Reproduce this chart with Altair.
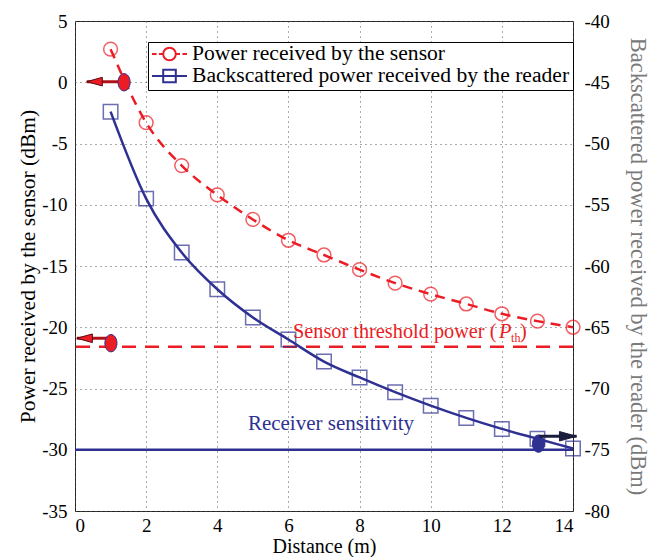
import altair as alt
import pandas as pd

# ---------------- data ----------------
distance = [1, 2, 3, 4, 5, 6, 7, 8, 9, 10, 11, 12, 13, 14]
sensor_dbm = [2.7, -3.3, -6.8, -9.2, -11.2, -12.9, -14.1, -15.3, -16.4, -17.3, -18.1, -18.9, -19.5, -20.0]
reader_dbm = [-47.4, -54.5, -58.9, -61.9, -64.2, -66.0, -67.8, -69.1, -70.3, -71.4, -72.4, -73.3, -74.1, -74.9]
threshold_dbm = [-21.6]          # left axis
sensitivity_dbm = [-75.0]        # right axis
series_names = ["Power received by the sensor", "Backscattered power received by the reader"]

x_ticks = [0, 2, 4, 6, 8, 10, 12, 14]
left_domain = [-35, 5]
right_domain = [-80, -40]

# annotation markers (axis-indicator ellipses and arrows)
red_ell_x = [1.38, 1.01]
red_ell_y = [0.0, -21.3]
red_arrow_from = [1.3, 0.95]
red_arrow_to = [0.33, 0.05]
red_arrow_y = [0.05, -20.9]
blue_ell_x = [13.03]
blue_ell_y = [-74.5]
blue_arrow_from = [13.05]
blue_arrow_to = [14.1]
blue_arrow_y = [-73.9]

RED = "#ec1c24"
BLUE = "#2e3192"
DARK = "#1c1c3c"
FONT = "Liberation Serif"

sensor_df = pd.DataFrame({"distance": distance, "dbm": sensor_dbm})
reader_df = pd.DataFrame({"distance": distance, "dbm": reader_dbm})
thr_df = pd.DataFrame({"dbm": threshold_dbm})
sens_df = pd.DataFrame({"dbm": sensitivity_dbm})
legend_df = pd.DataFrame({"series": series_names})
red_ell_df = pd.DataFrame({"distance": red_ell_x, "dbm": red_ell_y})
red_arr_df = pd.DataFrame({"distance": red_arrow_from, "d2": red_arrow_to, "dbm": red_arrow_y})
blue_ell_df = pd.DataFrame({"distance": blue_ell_x, "dbm": blue_ell_y})
blue_arr_df = pd.DataFrame({"distance": blue_arrow_from, "d2": blue_arrow_to, "dbm": blue_arrow_y})

common = dict(labelFont=FONT, titleFont=FONT, titleFontWeight="normal", labelColor="black",
              ticks=False, domain=False, gridColor="#555", gridDash=[1, 4], gridWidth=1, gridOpacity=1,
              labelExpr="datum.value + ''")
x_axis = alt.Axis(values=x_ticks, title="Distance (m)", grid=True, labelPadding=5,
                  titlePadding=1, titleFontSize=20, labelFontSize=19, titleColor="black", **common)
left_axis = alt.Axis(values=list(range(-35, 6, 5)), title="Power received by the sensor (dBm)",
                     grid=True, labelPadding=8, titlePadding=2, titleFontSize=21.5, labelFontSize=19,
                     titleColor="black", **common)
right_axis = alt.Axis(values=list(range(-80, -39, 5)), orient="right",
                      title="Backscattered power received by the reader (dBm)", grid=False,
                      labelPadding=11, titlePadding=16, titleFontSize=22.5, labelFontSize=19,
                      titleColor="#7a7a7a", **common)


def X(field="distance"):
    return alt.X(f"{field}:Q", scale=alt.Scale(domain=[0, 14], nice=False), axis=x_axis)


def YL():
    return alt.Y("dbm:Q", scale=alt.Scale(domain=left_domain, nice=False), axis=left_axis)


def YR():
    return alt.Y("dbm:Q", scale=alt.Scale(domain=right_domain, nice=False), axis=right_axis)


# ---------------- left-axis group ----------------
red_line = alt.Chart(sensor_df).mark_line(color=RED, strokeWidth=2.5, strokeDash=[10, 7],
                                          interpolate="monotone").encode(x=X(), y=YL())
red_pts = alt.Chart(sensor_df).mark_point(shape="circle", size=190, color=RED, filled=False,
                                          strokeWidth=1.5).encode(x=X(), y=YL())
thr_rule = alt.Chart(thr_df).mark_rule(color=RED, strokeWidth=2.5, strokeDash=[14, 9]).encode(y=YL())

red_arr_shaft = alt.Chart(red_arr_df).mark_rule(color="#b01018", strokeWidth=3).encode(
    x=X(), x2="d2:Q", y=YL())
head_left = "M0,0L1.8,-0.5L1.8,0.5Z"
head_right = "M0,0L-1.8,-0.5L-1.8,0.5Z"
ellipse = "M0,-1A0.7,1 0 1,1 0,1A0.7,1 0 1,1 0,-1Z"
red_arr_head = alt.Chart(red_arr_df).mark_point(shape=head_left, size=300, filled=True, fill=RED,
                                                stroke="#5a0a10", strokeWidth=1, opacity=1).encode(
    x=X("d2"), y=YL())
red_ell = alt.Chart(red_ell_df).mark_point(shape=ellipse, size=300, filled=True, fill=RED,
                                           stroke=BLUE, strokeWidth=1, opacity=1).encode(x=X(), y=YL())

txt_df = pd.DataFrame({"distance": [6.13], "dbm": [-20.9]})
t1 = alt.Chart(txt_df).mark_text(text="Sensor threshold power (", align="left", baseline="alphabetic",
                                 font=FONT, fontSize=20.3, color=RED).encode(x=X(), y=YL())
t2 = alt.Chart(txt_df).mark_text(text="P", align="left", baseline="alphabetic", dx=206,
                                 font=FONT, fontSize=20.3, fontStyle="italic", color=RED).encode(x=X(), y=YL())
t3 = alt.Chart(txt_df).mark_text(text="th", align="left", baseline="alphabetic", dx=218, dy=4,
                                 font=FONT, fontSize=12, color=RED).encode(x=X(), y=YL())
t4 = alt.Chart(txt_df).mark_text(text=")", align="left", baseline="alphabetic", dx=227,
                                 font=FONT, fontSize=20.3, color=RED).encode(x=X(), y=YL())
rs_df = pd.DataFrame({"distance": [4.86], "dbm": [-28.4]})
t5 = alt.Chart(rs_df).mark_text(text="Receiver sensitivity", align="left", baseline="alphabetic",
                                font=FONT, fontSize=21, color=BLUE).encode(x=X(), y=YL())

red_sym = ("M-1,0H-0.74M-0.6,0H-0.38M0.38,0H0.6M0.74,0H1"
           "M-0.36,0A0.36,0.36 0 1 0 0.36,0A0.36,0.36 0 1 0 -0.36,0")
blue_sym = "M-1,0H1M-0.36,-0.36H0.36V0.36H-0.36Z"
leg = alt.Legend(title=None, orient="none", legendX=73, legendY=21, labelFont=FONT, labelFontSize=21.6,
                 labelLimit=0, symbolSize=1225, symbolStrokeWidth=2, symbolOpacity=1, clipHeight=18,
                 rowPadding=0, padding=3, strokeColor="black", fillColor="white", labelOffset=4,
                 labelColor="black")
legend_layer = alt.Chart(legend_df).mark_point(filled=False, opacity=0).encode(
    color=alt.Color("series:N", scale=alt.Scale(domain=series_names, range=[RED, BLUE]), legend=leg),
    shape=alt.Shape("series:N", scale=alt.Scale(domain=series_names, range=[red_sym, blue_sym]), legend=leg),
)

left_group = alt.layer(thr_rule, red_line, red_pts, red_arr_shaft, red_arr_head, red_ell,
                       t1, t2, t3, t4, t5, legend_layer)

# ---------------- right-axis group ----------------
blue_line = alt.Chart(reader_df).mark_line(color=BLUE, strokeWidth=2.5,
                                           interpolate="monotone").encode(x=X(), y=YR())
blue_pts = alt.Chart(reader_df).mark_point(shape="square", size=210, color=BLUE, filled=False,
                                           strokeWidth=1.5).encode(x=X(), y=YR())
sens_rule = alt.Chart(sens_df).mark_rule(color=BLUE, strokeWidth=2.5).encode(y=YR())
blue_ell = alt.Chart(blue_ell_df).mark_point(shape=ellipse, size=300, filled=True, fill=BLUE,
                                             stroke=BLUE, strokeWidth=1, opacity=1).encode(x=X(), y=YR())
blue_arr_shaft = alt.Chart(blue_arr_df).mark_rule(color=DARK, strokeWidth=3).encode(
    x=X(), x2="d2:Q", y=YR())
blue_arr_head = alt.Chart(blue_arr_df).mark_point(shape=head_right, size=360, filled=True, fill=DARK,
                                                  stroke=DARK, strokeWidth=1, opacity=1).encode(
    x=X("d2"), y=YR())

right_group = alt.layer(sens_rule, blue_line, blue_pts, blue_ell, blue_arr_shaft, blue_arr_head)

chart = alt.layer(left_group, right_group).resolve_scale(y="independent").properties(
    width=498, height=490,
    padding={"left": 75, "top": 21, "right": 79, "bottom": 46},
    autosize=alt.AutoSizeParams(type="none"),
    background="white",
).configure(font=FONT).configure_view(stroke="#222", strokeWidth=1)

chart.save("out.html", embed_options={"renderer": "svg", "actions": False})
